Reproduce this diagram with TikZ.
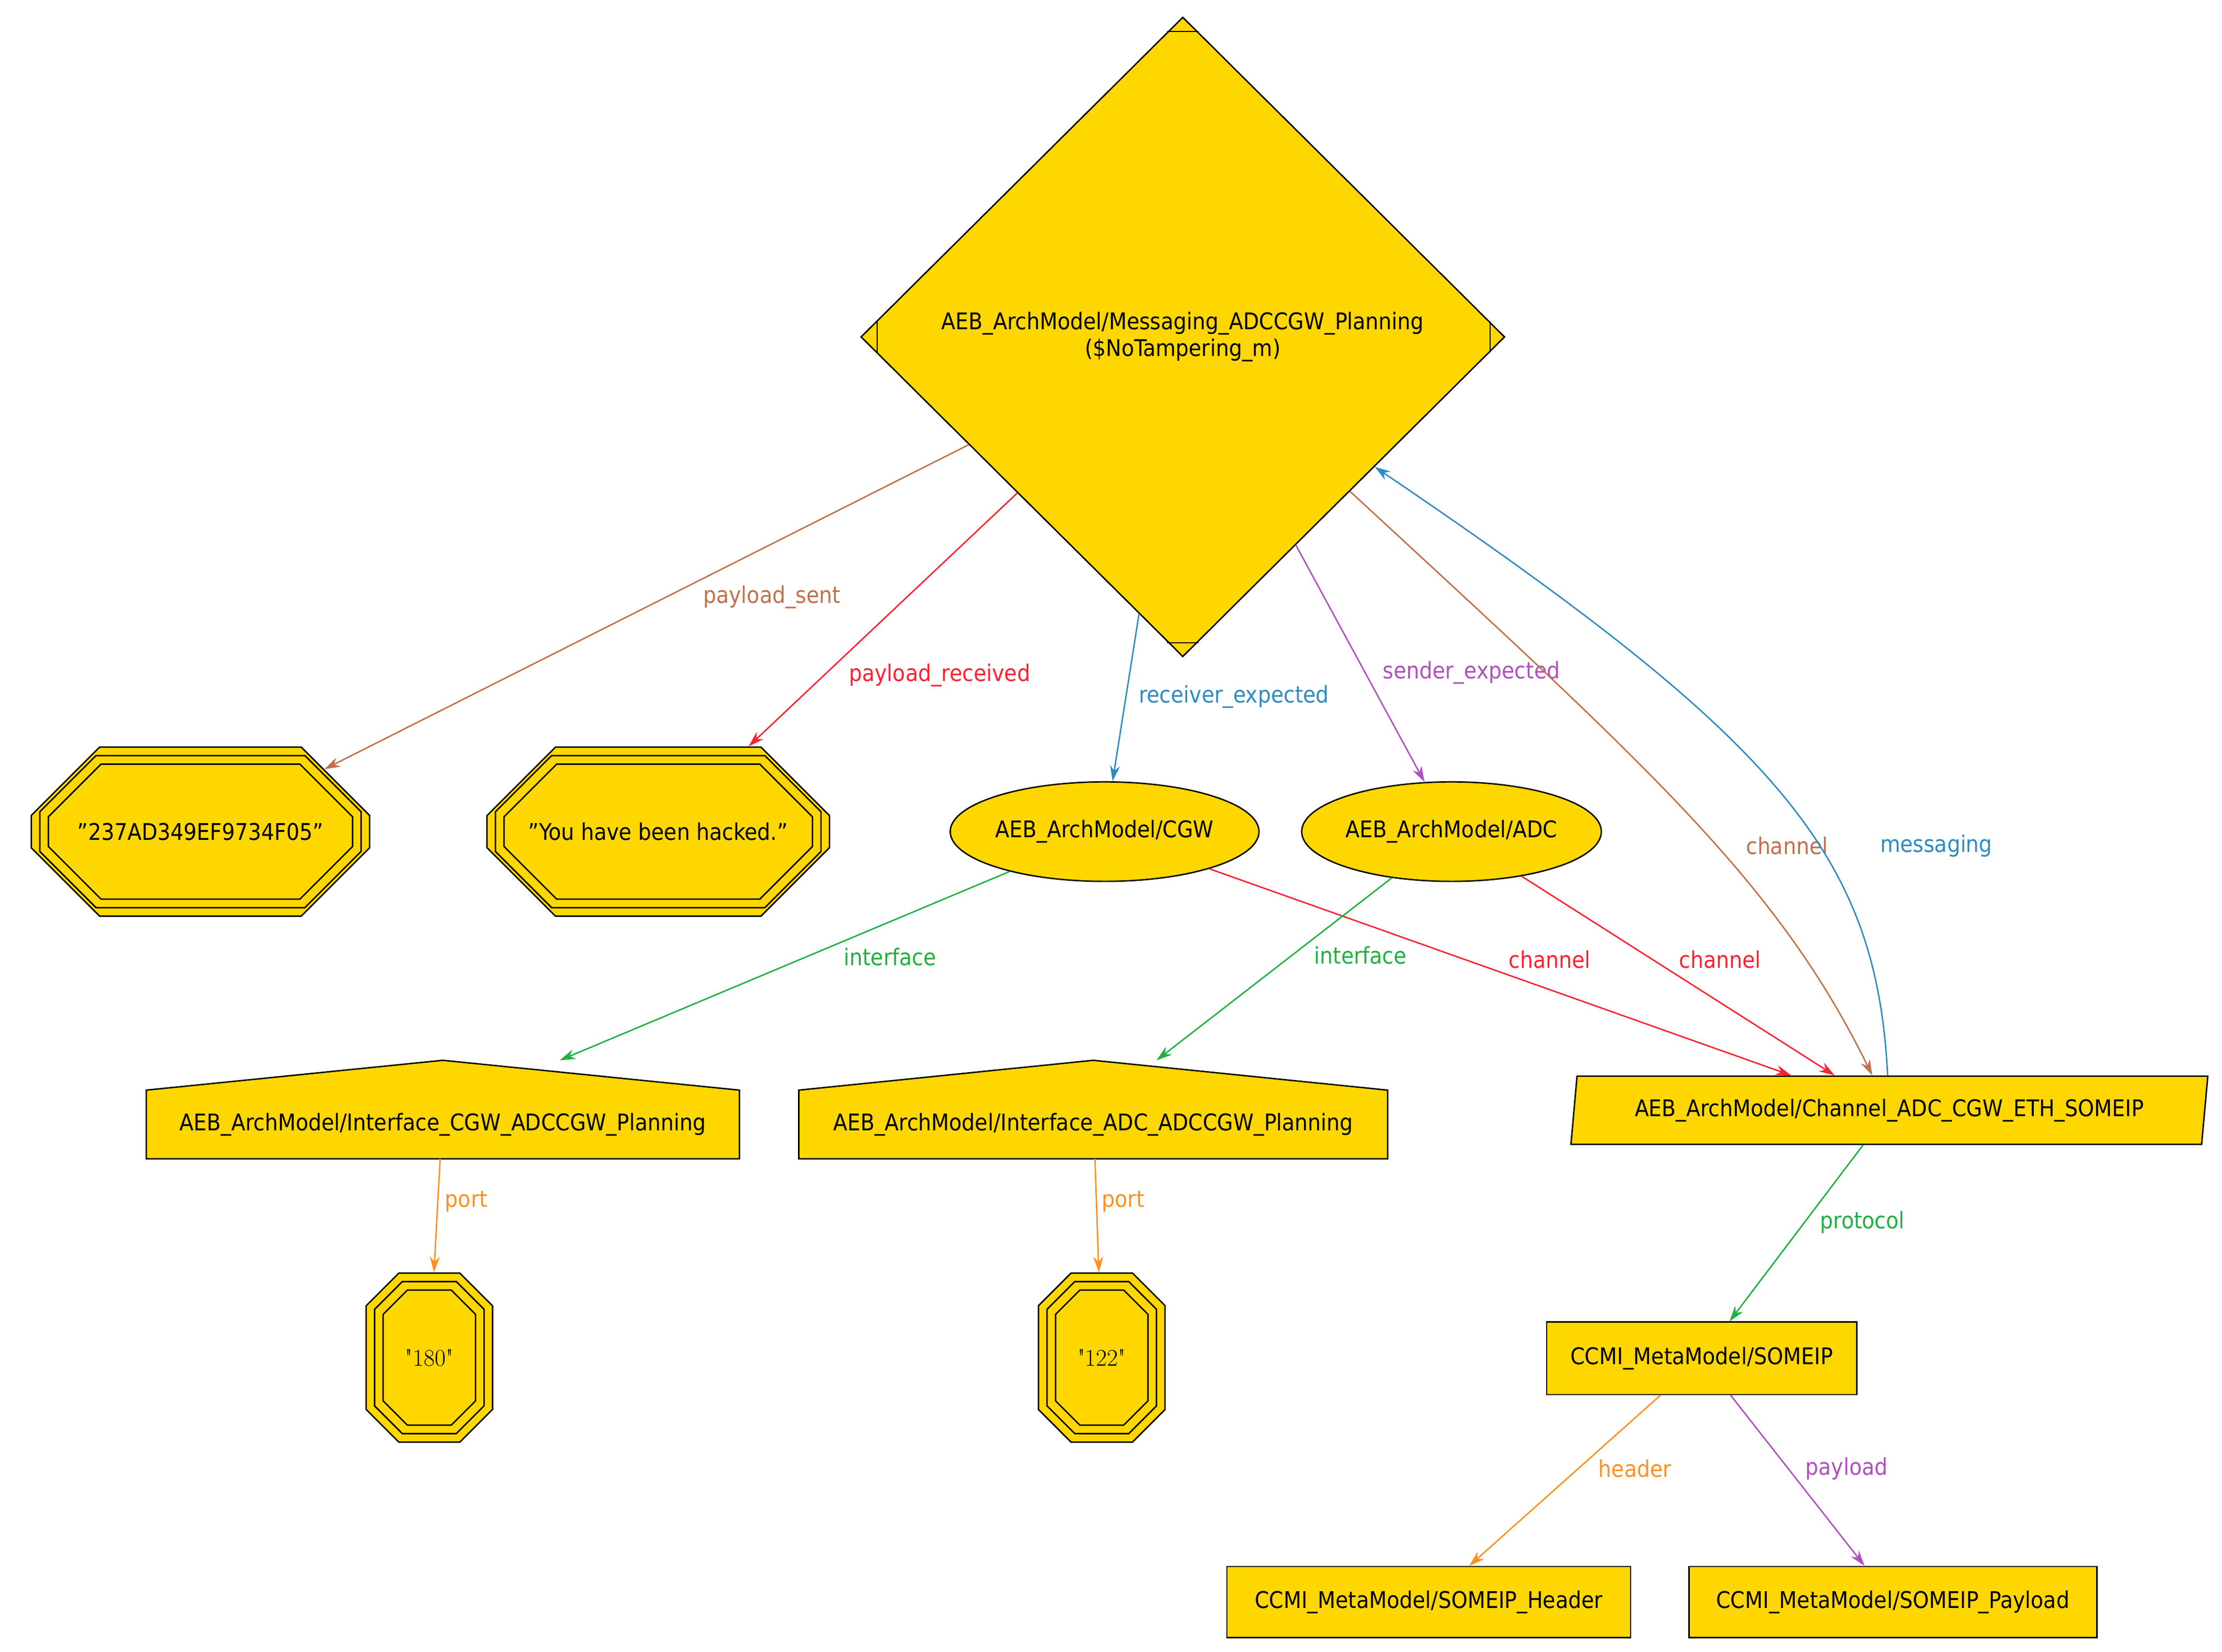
\documentclass[tikz,border=0pt]{standalone}
\usepackage{fontspec}
\setmainfont{DejaVu Sans Condensed}
\newfontfamily\numfont{Latin Modern Roman}
\usetikzlibrary{shapes.geometric,shapes.misc,arrows.meta}
\definecolor{gold}{HTML}{FFD700}
\definecolor{csienna}{HTML}{C0704A}
\definecolor{cred}{HTML}{FF2030}
\definecolor{cblue}{HTML}{2E8BC0}
\definecolor{cpurple}{HTML}{B050C0}
\definecolor{cgreen}{HTML}{20B040}
\definecolor{corange}{HTML}{FF9020}
\newcommand\myocto[4]{% cx cy hw hh ; chamfer from key
  \foreach \dd in {6,12}{%
    \pgfmathsetmacro\hw{#3-\dd}\pgfmathsetmacro\hh{#4-\dd}\pgfmathsetmacro\cc{\octc-0.41*\dd}%
    \draw[nodeline] (#1-\hw+\cc,#2-\hh) -- (#1+\hw-\cc,#2-\hh) -- (#1+\hw,#2-\hh+\cc) -- (#1+\hw,#2+\hh-\cc)
      -- (#1+\hw-\cc,#2+\hh) -- (#1-\hw+\cc,#2+\hh) -- (#1-\hw,#2+\hh-\cc) -- (#1-\hw,#2-\hh+\cc) -- cycle;}}
\begin{document}
\begin{tikzpicture}[x=0.05cm,y=-0.05cm,
  nodeline/.style={draw=black,line width=0.05cm},
  base/.style={nodeline,fill=gold,font=\fontsize{23}{27}\selectfont,text=black,inner sep=0pt},
  oct/.style={base,chamfered rectangle,chamfered rectangle xsep=#1*0.05cm,chamfered rectangle ysep=#1*0.05cm},
  edge/.style={line width=0.05cm,-{Stealth[length=0.55cm,width=0.35cm]}},
  lab/.style={font=\fontsize{23}{27}\selectfont,inner sep=1pt}]
\useasboundingbox (0,0) rectangle (1563,1162);
% diamond
\node[base,diamond,minimum width=22.65cm,minimum height=22.5cm,align=center] (d) at (832,237)
  {AEB\_ArchModel/Messaging\_ADCCGW\_Planning\\(\$NoTampering\_m)};
\draw[nodeline,line width=0.035cm] (821,22) -- (843,22) (821,452) -- (843,452) (617,226) -- (617,248) (1048,226) -- (1048,248);
% octagons
\node[oct=42,minimum width=11.9cm,minimum height=5.95cm] (o1) at (141,585) {"237AD349EF9734F05"};
\def\octc{42}\myocto{141}{585}{119}{59.5}
\node[oct=42,minimum width=12.05cm,minimum height=5.95cm] (o2) at (463,585) {"You have been hacked."};
\myocto{463}{585}{120.5}{59.5}
\node[oct=22,minimum width=4.45cm,minimum height=5.95cm,font=\numfont\fontsize{24}{28}\selectfont] (p1) at (302,955) {"180"};
\def\octc{22}\myocto{302}{955}{44.5}{59.5}
\node[oct=22,minimum width=4.45cm,minimum height=5.95cm,font=\numfont\fontsize{24}{28}\selectfont] (p2) at (775,955) {"122"};
\myocto{775}{955}{44.5}{59.5}
% ellipses
\node[base,ellipse,minimum width=10.2cm,minimum height=3.5cm] (cgw) at (777,585) {AEB\_ArchModel/CGW};
\node[base,ellipse,minimum width=10.1cm,minimum height=3.5cm] (adc) at (1021,585) {AEB\_ArchModel/ADC};
% houses
\node[minimum width=20.85cm,minimum height=3.45cm,inner sep=0pt,
  label={[font=\fontsize{23}{27}\selectfont,yshift=-0.5cm]center:AEB\_ArchModel/Interface\_CGW\_ADCCGW\_Planning}] (if1) at (311.5,780.5) {};
\draw[nodeline,fill=gold] (if1.south west) -- (if1.south east) -- ([yshift=-1.05cm]if1.north east) -- (if1.north) -- ([yshift=-1.05cm]if1.north west) -- cycle;
\node[font=\fontsize{23}{27}\selectfont] at (311.5,791) {AEB\_ArchModel/Interface\_CGW\_ADCCGW\_Planning};
\node[minimum width=20.7cm,minimum height=3.45cm,inner sep=0pt] (if2) at (769,780.5) {};
\draw[nodeline,fill=gold] (if2.south west) -- (if2.south east) -- ([yshift=-1.05cm]if2.north east) -- (if2.north) -- ([yshift=-1.05cm]if2.north west) -- cycle;
\node[font=\fontsize{23}{27}\selectfont] at (769,791) {AEB\_ArchModel/Interface\_ADC\_ADCCGW\_Planning};
% channel parallelogram
\node[base,trapezium,trapezium left angle=75,trapezium right angle=105,trapezium stretches body,
  minimum width=22.4cm,minimum height=2.4cm] (ch) at (1329,781) {AEB\_ArchModel/Channel\_ADC\_CGW\_ETH\_SOMEIP};
% boxes
\node[base,rectangle,minimum width=10.9cm,minimum height=2.55cm] (so) at (1197,955.5) {CCMI\_MetaModel/SOMEIP};
\node[base,rectangle,minimum width=14.2cm,minimum height=2.5cm] (hd) at (1005,1127) {CCMI\_MetaModel/SOMEIP\_Header};
\node[base,rectangle,minimum width=14.35cm,minimum height=2.5cm] (pl) at (1331.5,1127) {CCMI\_MetaModel/SOMEIP\_Payload};
% edges
\draw[edge,csienna] (d) -- (o1) node[lab,text=csienna,at={(543,420)}] {payload\_sent};
\draw[edge,cred] (d) -- (o2) node[lab,text=cred,at={(661,475)}] {payload\_received};
\draw[edge,cblue] (d) -- (cgw) node[lab,text=cblue,at={(868,490)}] {receiver\_expected};
\draw[edge,cpurple] (d) -- (adc) node[lab,text=cpurple,at={(1035,473)}] {sender\_expected};
\draw[edge,csienna] (d) .. controls (1160,540) and (1250,620) .. (ch) node[lab,text=csienna,at={(1257,595)}] {channel};
\draw[edge,cblue] (ch) .. controls (1320,600) and (1250,520) .. (d) node[lab,text=cblue,at={(1362,595)}] {messaging};
\draw[edge,cred] (cgw) -- (ch) node[lab,text=cred,at={(1090,675)}] {channel};
\draw[edge,cred] (adc) -- (ch) node[lab,text=cred,at={(1210,675)}] {channel};
\draw[edge,cgreen] (cgw) -- (if1) node[lab,text=cgreen,at={(626,673)}] {interface};
\draw[edge,cgreen] (adc) -- (if2) node[lab,text=cgreen,at={(957,672)}] {interface};
\draw[edge,corange] (if1) -- (p1) node[lab,text=corange,at={(328,845)}] {port};
\draw[edge,corange] (if2) -- (p2) node[lab,text=corange,at={(790,845)}] {port};
\draw[edge,cgreen] (ch) -- (so) node[lab,text=cgreen,at={(1310,860)}] {protocol};
\draw[edge,corange] (so) -- (hd) node[lab,text=corange,at={(1150,1033)}] {header};
\draw[edge,cpurple] (so) -- (pl) node[lab,text=cpurple,at={(1299,1033)}] {payload};
\end{tikzpicture}
\end{document}
